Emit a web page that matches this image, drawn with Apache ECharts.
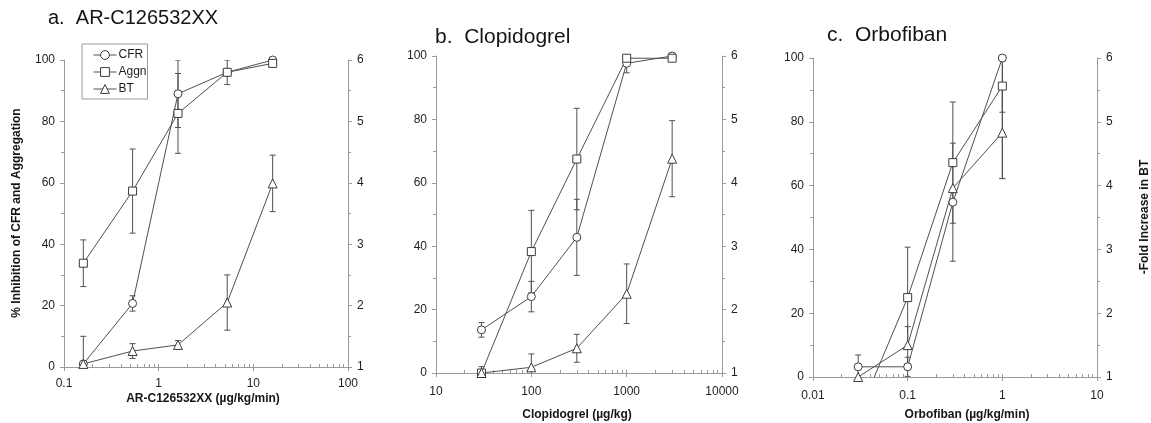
<!DOCTYPE html>
<html><head><meta charset="utf-8">
<script src="https://cdn.jsdelivr.net/npm/echarts@6/dist/echarts.min.js"></script>
<style>html,body{margin:0;padding:0;background:#fff}#c{width:1151px;height:423px}</style>
</head><body><div id="c"></div>
<script>
// ---------- DATA ----------
const seriesNames = ['CFR', 'Aggn', 'BT'];

// a. AR-C126532XX (µg/kg/min)
const doseA = [0.16, 0.53, 1.6, 5.3, 16];
const cfrA = [1, 20.7, 89, 96, 100];
const cfrErrA = [9, 2.5, 11, 0, 0];
const aggnA = [33.8, 57.3, 82.6, 96, 98.9];
const aggnErrA = [7.6, 13.7, 13, 4, 0];
const btA = [1.05, 1.26, 1.36, 2.05, 3.99];
const btErrA = [0, 0.12, 0.07, 0.45, 0.46];

// b. Clopidogrel (µg/kg)
const doseB = [30, 100, 300, 1000, 3000];
const cfrB = [13.6, 24.1, 42.8, 97.7, 100];
const cfrErrB = [2.3, 4.8, 12, 3, 0];
const aggnB = [0, 38.3, 67.5, 99.3, 99.3];
const aggnErrB = [0, 13, 16, 0, 0];
const btB = [1.0, 1.09, 1.39, 2.25, 4.38];
const btErrB = [0.1, 0.21, 0.22, 0.47, 0.6];

// c. Orbofiban (µg/kg/min)
const doseC = [0.03, 0.1, 0.3, 1];
const cfrC = [3.2, 3.2, 54.8, 100];
const cfrErrC = [3.7, 3, 18.5, 17];
const aggnC = [-12, 24.9, 67.2, 91.2];
const aggnErrC = [0, 15.8, 19, 29];
const btC = [1.0, 1.5, 3.96, 4.83];
const btErrC = [0, 0.29, 0, 0.72];

// axis ranges / labels
const xRangeA = [0.1, 100];
const xRangeB = [10, 10000];
const xRangeC = [0.01, 10];
const leftRange = [0, 100, 20];
const rightRange = [1, 6, 1];

const titles = ['a.  AR-C126532XX', 'b.  Clopidogrel', 'c.  Orbofiban'];
const xNames = ['AR-C126532XX (µg/kg/min)', 'Clopidogrel (µg/kg)', 'Orbofiban (µg/kg/min)'];
const yNameLeft = '% Inhibition of CFR and Aggregation';
const yNameRight = '-Fold Increase in BT';

// ---------- LAYOUT ----------
const FONT = '"Liberation Sans", Arial, sans-serif';
const AX = '#9a9a9a', LINE = '#505050', TXT = '#1e1e1e';
const panels = [
  { grid: { left: 64, top: 60, width: 284, height: 307 }, xr: xRangeA, dose: doseA,
    vals: [cfrA, aggnA, btA], errs: [cfrErrA, aggnErrA, btErrA], xm: 11 },
  { grid: { left: 436, top: 56, width: 286, height: 317 }, xr: xRangeB, dose: doseB,
    vals: [cfrB, aggnB, btB], errs: [cfrErrB, aggnErrB, btErrB], xm: 13 },
  { grid: { left: 813, top: 58, width: 284, height: 319 }, xr: xRangeC, dose: doseC,
    vals: [cfrC, aggnC, btC], errs: [cfrErrC, aggnErrC, btErrC], xm: 13 }
];
const symbols = ['circle', 'rect', 'triangle'];

function minorLogTicks(lo, hi) {
  const out = [];
  for (let d = lo; d < hi * 0.999; d *= 10) {
    for (let m = 1; m <= 9; m++) out.push(+(d * m).toPrecision(6));
  }
  out.push(hi);
  return out;
}

const grids = [], xAxes = [], yAxes = [], series = [];
panels.forEach((p, i) => {
  grids.push(Object.assign({ containLabel: false }, p.grid));
  xAxes.push({
    type: 'log', logBase: 10, gridIndex: i, position: 'bottom', min: p.xr[0], max: p.xr[1],
    axisLine: { show: true, lineStyle: { color: AX, width: 1 } },
    axisTick: { show: true, length: 4, lineStyle: { color: AX } },
    axisLabel: { color: TXT, fontSize: 12, fontFamily: FONT, margin: p.xm,
      formatter: v => String(+(+v).toPrecision(6)) },
    splitLine: { show: false }
  });
  xAxes.push({
    type: 'log', logBase: 10, gridIndex: i, position: 'bottom', min: p.xr[0], max: p.xr[1],
    axisLine: { show: false }, axisLabel: { show: false }, splitLine: { show: false },
    axisTick: { show: true, inside: true, length: 3, lineStyle: { color: AX },
      customValues: minorLogTicks(p.xr[0], p.xr[1]) }
  });
  yAxes.push({
    type: 'value', gridIndex: i, position: 'left', min: leftRange[0], max: leftRange[1], interval: leftRange[2],
    axisLine: { show: true, onZero: false, lineStyle: { color: AX } },
    axisTick: { show: true, length: 4, lineStyle: { color: AX } },
    minorTick: { show: true, splitNumber: 2, length: 3, lineStyle: { color: AX } },
    splitLine: { show: false },
    axisLabel: { color: TXT, fontSize: 12, fontFamily: FONT, margin: 9 }
  });
  yAxes.push({
    type: 'value', gridIndex: i, position: 'right', min: rightRange[0], max: rightRange[1], interval: rightRange[2],
    axisLine: { show: true, onZero: false, lineStyle: { color: AX } },
    axisTick: { show: true, length: 4, lineStyle: { color: AX } },
    minorTick: { show: true, splitNumber: 2, length: 3, lineStyle: { color: AX } },
    splitLine: { show: false },
    axisLabel: { color: TXT, fontSize: 12, fontFamily: FONT, margin: 9 }
  });
  seriesNames.forEach((name, s) => {
    const yIdx = s === 2 ? 2 * i + 1 : 2 * i;
    const v = p.vals[s], e = p.errs[s];
    series.push({
      type: 'custom', xAxisIndex: 2 * i, yAxisIndex: yIdx, clip: true, silent: true, z: 2,
      data: p.dose.map((d, k) => [d, v[k] - e[k], v[k] + e[k]]).filter((r, k) => e[k] > 0),
      encode: { x: 0, y: [1, 2] },
      renderItem: (params, api) => {
        const x = api.value(0);
        const lo = api.coord([x, api.value(1)]);
        const hi = api.coord([x, api.value(2)]);
        const w = 3, st = { stroke: LINE, lineWidth: 1 };
        return { type: 'group', children: [
          { type: 'line', shape: { x1: lo[0], y1: lo[1], x2: hi[0], y2: hi[1] }, style: st },
          { type: 'line', shape: { x1: lo[0] - w, y1: lo[1], x2: lo[0] + w, y2: lo[1] }, style: st },
          { type: 'line', shape: { x1: hi[0] - w, y1: hi[1], x2: hi[0] + w, y2: hi[1] }, style: st }
        ] };
      }
    });
    series.push({
      type: 'line', name: name, xAxisIndex: 2 * i, yAxisIndex: yIdx, clip: true, z: 3,
      data: p.dose.map((d, k) => [d, v[k]]),
      symbol: symbols[s], symbolSize: s === 2 ? 9 : 8, showAllSymbol: true,
      itemStyle: { color: '#fff', borderColor: '#3c3c3c', borderWidth: 1 },
      lineStyle: { color: LINE, width: 1 },
      emphasis: { disabled: true }, animation: false
    });
  });
});

const txt = (text, x, y, size, weight, extra) => Object.assign({
  type: 'text', x: x, y: y, silent: true,
  style: { text: text, fill: '#151515', font: `${weight} ${size}px ${FONT}`, align: 'center', verticalAlign: 'middle' }
}, extra || {});

const graphics = [
  txt(titles[0], 48, 18, 20, 'normal'), txt(titles[1], 435, 37, 21, 'normal'), txt(titles[2], 827, 35, 21, 'normal'),
  txt(xNames[0], 203, 399, 12, 'bold'), txt(xNames[1], 577, 415, 12, 'bold'), txt(xNames[2], 967, 415, 12, 'bold'),
  txt(yNameLeft, 17, 213, 12, 'bold', { rotation: Math.PI / 2 }),
  txt(yNameRight, 1145, 217, 12, 'bold', { rotation: Math.PI / 2 })
];
graphics[0].style.align = 'left'; graphics[1].style.align = 'left'; graphics[2].style.align = 'left';

const chart = echarts.init(document.getElementById('c'), null, { renderer: 'canvas' });
chart.setOption({
  backgroundColor: '#fff',
  animation: false,
  textStyle: { fontFamily: FONT },
  legend: {
    data: seriesNames, orient: 'vertical', left: 82, top: 44,
    padding: [5, 1, 4, 11], itemGap: 5, itemWidth: 23, itemHeight: 11,
    borderColor: '#9a9a9a', borderWidth: 1, backgroundColor: '#fff',
    lineStyle: { width: 1, color: LINE },
    itemStyle: { borderWidth: 1, color: '#fff', borderColor: '#3c3c3c' },
    textStyle: { color: TXT, fontSize: 12, fontFamily: FONT, padding: [0, 0, 0, -3] },
    selectedMode: false
  },
  grid: grids, xAxis: xAxes, yAxis: yAxes, series: series, graphic: graphics
});
</script></body></html>
